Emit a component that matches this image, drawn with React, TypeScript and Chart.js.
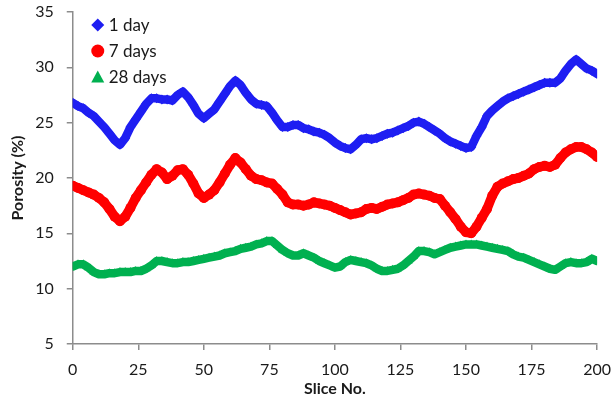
import React, { useEffect, useRef } from "react";
import { Chart, registerables } from "chart.js";

Chart.register(...registerables);

const slices: number[] = [
  0, 2, 4, 6, 8, 10, 12, 14, 16, 18, 20, 22, 24, 26, 28, 30, 32, 34, 36, 38, 40, 42, 44, 46, 48,
  50, 52, 54, 56, 58, 60, 62, 64, 66, 68, 70, 72, 74, 76, 78, 80, 82, 84, 86, 88, 90, 92, 94, 96, 98,
  100, 102, 104, 106, 108, 110, 112, 114, 116, 118, 120, 122, 124, 126, 128, 130, 132, 134, 136, 138,
  140, 142, 144, 146, 148, 150, 152, 154, 156, 158, 160, 162, 164, 166, 168, 170, 172, 174, 176, 178,
  180, 182, 184, 186, 188, 190, 192, 194, 196, 198, 200,
];

const day1: number[] = [
  26.8, 26.5, 26.3, 25.9, 25.6, 25.1, 24.6, 24.0, 23.4, 23.0, 23.6, 24.6, 25.3, 26.0, 26.7, 27.2, 27.2, 27.1, 27.1, 27.0, 27.5, 27.8, 27.3, 26.6, 25.8,
  25.4, 25.8, 26.2, 26.9, 27.6, 28.3, 28.8, 28.4, 27.7, 27.1, 26.7, 26.6, 26.5, 25.9, 25.2, 24.6, 24.6, 24.8, 24.8, 24.5, 24.4, 24.2, 24.1, 23.9, 23.6,
  23.2, 22.9, 22.7, 22.6, 23.0, 23.5, 23.6, 23.5, 23.6, 23.8, 24.0, 24.1, 24.3, 24.5, 24.7, 25.0, 25.1, 24.9, 24.6, 24.3,
  24.0, 23.6, 23.3, 23.1, 22.9, 22.7, 22.8, 23.8, 24.6, 25.6, 26.1, 26.5, 26.9, 27.2, 27.4, 27.6, 27.8, 28.0, 28.2, 28.4,
  28.6, 28.6, 28.6, 29.0, 29.7, 30.3, 30.7, 30.3, 29.9, 29.7, 29.4,
];

const day7: number[] = [
  19.3, 19.1, 18.9, 18.7, 18.5, 18.2, 17.8, 17.2, 16.5, 16.1, 16.5, 17.3, 18.2, 18.9, 19.6, 20.3, 20.8, 20.5, 19.9, 20.2, 20.7, 20.8, 20.3, 19.5, 18.6,
  18.2, 18.5, 18.9, 19.6, 20.4, 21.2, 21.8, 21.4, 20.8, 20.2, 19.9, 19.8, 19.6, 19.5, 19.0, 18.5, 17.8, 17.6, 17.6, 17.5, 17.6, 17.8, 17.7, 17.6, 17.5,
  17.3, 17.1, 16.9, 16.7, 16.8, 16.9, 17.2, 17.3, 17.2, 17.4, 17.6, 17.7, 17.8, 18.0, 18.2, 18.5, 18.6, 18.5, 18.4, 18.2,
  18.1, 17.5, 16.9, 16.3, 15.6, 15.1, 15.0, 15.6, 16.4, 17.2, 18.4, 19.2, 19.5, 19.7, 19.9, 20.0, 20.2, 20.4, 20.8, 21.0,
  21.1, 21.0, 21.2, 21.8, 22.3, 22.6, 22.8, 22.8, 22.6, 22.3, 21.9,
];

const day28: number[] = [
  12.0, 12.2, 12.2, 11.9, 11.5, 11.3, 11.3, 11.4, 11.4, 11.5, 11.5, 11.5, 11.6, 11.6, 11.8, 12.1, 12.5, 12.5, 12.4, 12.3, 12.3, 12.4, 12.4, 12.5, 12.6,
  12.7, 12.8, 12.9, 13.0, 13.2, 13.3, 13.4, 13.6, 13.7, 13.8, 14.0, 14.1, 14.3, 14.3, 13.9, 13.5, 13.2, 13.0, 13.0, 13.2, 13.0, 12.8, 12.5, 12.3, 12.1,
  11.9, 12.0, 12.4, 12.6, 12.5, 12.4, 12.3, 12.1, 11.8, 11.6, 11.6, 11.7, 11.8, 12.1, 12.5, 12.9, 13.4, 13.4, 13.3, 13.1,
  13.3, 13.5, 13.7, 13.8, 13.9, 14.0, 14.0, 14.0, 13.9, 13.8, 13.7, 13.6, 13.5, 13.4, 13.1, 12.9, 12.8, 12.6, 12.4, 12.2,
  12.0, 11.8, 11.7, 12.0, 12.3, 12.4, 12.3, 12.3, 12.4, 12.7, 12.5,
];

const seriesNames: string[] = ["1 day", "7 days", "28 days"];
const seriesColors: string[] = ["#1e1ef2", "#ff0000", "#00b050"];
const seriesShapes: string[] = ["diamond", "circle", "triangle"];
const xTitle = "Slice No.";
const yTitle = "Porosity (%)";

const FONT = "Lato, 'Liberation Sans', sans-serif";
const AXIS_COLOR = "#8c8c8c";
const TEXT_COLOR = "#1a1a1a";

const CANVAS_W = 623;
const CANVAS_H = 412;
const SHIFT_Y = -9;

function drawShape(ctx: CanvasRenderingContext2D, shape: string, x: number, y: number, r: number) {
  ctx.beginPath();
  if (shape === "diamond") {
    ctx.moveTo(x, y - r);
    ctx.lineTo(x + r, y);
    ctx.lineTo(x, y + r);
    ctx.lineTo(x - r, y);
    ctx.closePath();
  } else if (shape === "circle") {
    ctx.arc(x, y, r, 0, Math.PI * 2);
  } else {
    ctx.moveTo(x, y - r);
    ctx.lineTo(x + r, y + r * 0.85);
    ctx.lineTo(x - r, y + r * 0.85);
    ctx.closePath();
  }
  ctx.fill();
}

const insideLegend = {
  id: "insideLegend",
  afterDraw(chart: any) {
    const ctx: CanvasRenderingContext2D = chart.ctx;
    const area = chart.chartArea;
    ctx.save();
    ctx.font = `17px ${FONT}`;
    ctx.textBaseline = "middle";
    ctx.textAlign = "left";
    seriesNames.forEach((name, i) => {
      const y = area.top + 13 + i * 26;
      ctx.fillStyle = seriesColors[i];
      drawShape(ctx, seriesShapes[i], area.left + 25, y, 6.5);
      ctx.fillStyle = TEXT_COLOR;
      ctx.fillText(name, area.left + 36, y + 1);
    });
    ctx.restore();
  },
};

export default function App() {
  const ref = useRef<HTMLCanvasElement | null>(null);

  useEffect(() => {
    document.body.style.margin = "0";
    const canvas = ref.current;
    if (!canvas) return;
    const mk = (vals: number[]) => slices.map((x, i) => ({ x, y: vals[i] }));
    const common = {
      pointRadius: 5,
      pointBorderWidth: 0,
      showLine: true,
      borderJoinStyle: "round",
      borderCapStyle: "round",
    };
    const chart = new Chart(canvas, {
      type: "scatter",
      data: {
        datasets: [
          { ...common, label: seriesNames[0], data: mk(day1), pointStyle: "rectRot", backgroundColor: seriesColors[0], borderColor: seriesColors[0], borderWidth: 8.5 },
          { ...common, label: seriesNames[1], data: mk(day7), pointStyle: "circle", backgroundColor: seriesColors[1], borderColor: seriesColors[1], borderWidth: 9.5 },
          { ...common, label: seriesNames[2], data: mk(day28), pointStyle: "triangle", backgroundColor: seriesColors[2], borderColor: seriesColors[2], borderWidth: 8.5 },
        ] as any,
      },
      options: {
        animation: false,
        responsive: false,
        maintainAspectRatio: false,
        layout: { autoPadding: false, padding: { left: 8, right: 0, top: 0, bottom: 6 } },
        plugins: {
          tooltip: { enabled: false },
          legend: { display: false },
        },
        scales: {
          x: {
            type: "linear",
            min: 0,
            max: 200,
            ticks: { stepSize: 25, color: TEXT_COLOR, font: { family: FONT, size: 16, lineHeight: 1 }, padding: 12 },
            grid: { display: true, drawOnChartArea: false, drawTicks: true, tickLength: 6, color: AXIS_COLOR, lineWidth: 1.5 },
            border: { color: AXIS_COLOR, width: 1.5 },
            title: { display: true, text: xTitle, color: TEXT_COLOR, font: { family: FONT, size: 16, weight: "bold", lineHeight: 1 }, padding: { top: -9, bottom: 0 } },
          },
          y: {
            type: "linear",
            min: 5,
            max: 35,
            ticks: { stepSize: 5, color: TEXT_COLOR, font: { family: FONT, size: 16, lineHeight: 1 }, padding: 13 },
            grid: { display: true, drawOnChartArea: false, drawTicks: true, tickLength: 6, color: AXIS_COLOR, lineWidth: 1.5 },
            border: { color: AXIS_COLOR, width: 1.5 },
            title: { display: true, text: yTitle, color: TEXT_COLOR, font: { family: FONT, size: 16, weight: "bold" }, padding: { top: 0, bottom: -5 } },
          },
        },
      },
      plugins: [insideLegend],
    });
    return () => chart.destroy();
  }, []);

  return (
    <div style={{ width: 612, height: 403, background: "#fff", overflow: "hidden", position: "relative" }}>
      <canvas
        ref={ref}
        width={CANVAS_W}
        height={CANVAS_H}
        style={{ width: CANVAS_W, height: CANVAS_H, position: "absolute", left: 0, top: SHIFT_Y }}
      />
    </div>
  );
}
